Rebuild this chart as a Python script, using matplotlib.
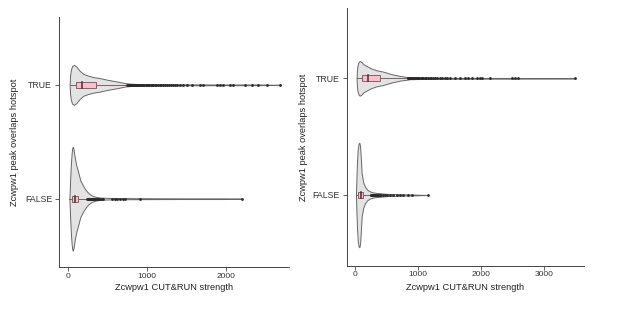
import matplotlib
matplotlib.use("Agg")
import matplotlib.pyplot as plt

plt.rcParams["font.family"] = ["Liberation Sans", "DejaVu Sans"]

W, H = 617, 309

categories = ["FALSE", "TRUE"]

# violin outlines: strength value -> half width (y units)
left_true_x = [25, 30, 40, 55, 80, 110, 150, 198, 260, 330, 409, 500, 620, 725, 800, 900, 1000, 1200, 1500, 2000, 2400, 2700]
left_true_hw = [0.0, 0.08, 0.13, 0.165, 0.175, 0.16, 0.125, 0.096, 0.08, 0.068, 0.059, 0.045, 0.03, 0.015, 0.01, 0.007, 0.006, 0.005, 0.004, 0.003, 0.003, 0.0]
left_false_x = [22, 30, 40, 50, 58, 65, 75, 92, 110, 134, 160, 198, 230, 261, 300, 350, 409, 500, 700, 1000, 1500, 2000, 2200]
left_false_hw = [0.0, 0.15, 0.3, 0.4, 0.445, 0.456, 0.43, 0.35, 0.29, 0.23, 0.16, 0.11, 0.075, 0.05, 0.03, 0.017, 0.01, 0.007, 0.005, 0.004, 0.003, 0.003, 0.0]
right_true_x = [20, 25, 32, 45, 60, 75, 95, 130, 181, 250, 330, 445, 580, 711, 870, 1000, 1500, 2000, 2500, 3000, 3500]
right_true_hw = [0.0, 0.06, 0.1, 0.13, 0.145, 0.148, 0.14, 0.12, 0.105, 0.085, 0.07, 0.057, 0.035, 0.02, 0.008, 0.006, 0.004, 0.003, 0.003, 0.002, 0.0]
right_false_x = [10, 18, 28, 40, 52, 64, 75, 86, 101, 125, 154, 190, 234, 300, 393, 500, 700, 900, 1160]
right_false_hw = [0.0, 0.15, 0.3, 0.4, 0.44, 0.448, 0.42, 0.33, 0.186, 0.11, 0.071, 0.045, 0.03, 0.02, 0.015, 0.01, 0.006, 0.004, 0.0]

# box stats: whisker low, q1, median, q3, whisker high  (FALSE, TRUE)
left_box = [[22, 58, 92, 134, 245], [30, 105, 181, 358, 740]]
right_box = [[10, 48, 86, 127, 245], [20, 101, 207, 393, 830]]

# outliers
left_true_out = [752, 760, 771, 779, 788, 797, 806, 818, 825, 836, 848, 859, 866, 880, 893, 905, 917,
                 930, 944, 958, 969, 985, 1002, 1018, 1031, 1050, 1066, 1083, 1101, 1122, 1140, 1163,
                 1181, 1204, 1229, 1252, 1280, 1306, 1334, 1361, 1380,
                 1423, 1464, 1506, 1570, 1675, 1717, 1886, 1928, 1970, 2054, 2097, 2245, 2330, 2413,
                 2519, 2687]
left_false_out = [248, 252, 257, 261, 266, 270, 276, 281, 287, 293, 300, 306, 313, 321, 330, 339, 348,
                  359, 370, 383, 397, 410, 430, 451, 557, 599, 620, 662, 704, 725, 915, 2200]
right_true_out = [832, 840, 850, 861, 872, 884, 896, 909, 921, 936, 951, 967, 982, 1000, 1018, 1037,
                  1058, 1080, 1103, 1128, 1152, 1180, 1210, 1240, 1272, 1305, 1340, 1380, 1426,
                  1453, 1505, 1585, 1664, 1744, 1797, 1850, 1929, 1982, 2009, 2141, 2486, 2539, 2592, 3500]
right_false_out = [248, 253, 259, 265, 272, 280, 288, 297, 306, 317, 329, 342, 356, 372, 390, 410, 445,
                   472, 498, 552, 604, 658, 711, 763, 842, 896, 1160]

left_xticks = [0, 1000, 2000]
right_xticks = [0, 1000, 2000, 3000]

xlabel = "Zcwpw1 CUT&RUN strength"
ylabel = "Zcwpw1 peak overlaps hotspot"


def px_axes(fig, l, t, r, b):
    return fig.add_axes([l / W, 1 - b / H, (r - l) / W, (b - t) / H])


def draw_panel(ax, violins, boxes, outs, xlim, ylim, xticks):
    for pos, (xs, hw) in enumerate(violins, start=1):
        lo = [pos - h for h in hw]
        hi = [pos + h for h in hw]
        ax.fill_between(xs, lo, hi, facecolor="#e3e3e3", edgecolor="#666666", linewidth=0.7, zorder=1)
    for pos, (wl, q1, med, q3, wh) in enumerate(boxes, start=1):
        bw = 0.025
        ax.plot([wl, q1], [pos, pos], color="#6b4a50", lw=0.6, zorder=2)
        ax.plot([q3, wh], [pos, pos], color="#6b4a50", lw=0.6, zorder=2)
        ax.add_patch(plt.Rectangle((q1, pos - bw), q3 - q1, 2 * bw, facecolor="#f7c1cb",
                                   edgecolor="#7a4a55", lw=0.6, zorder=3))
        ax.plot([med, med], [pos - bw, pos + bw], color="#4a2a30", lw=1.1, zorder=4)
    for pos, o in enumerate(outs, start=1):
        ax.plot(o, [pos] * len(o), "o", ms=2, color="#2a2a2a", mec="none", zorder=5)
    ax.set_xlim(*xlim)
    ax.set_ylim(*ylim)
    ax.set_xticks(xticks)
    ax.set_xticklabels([str(t) for t in xticks])
    ax.set_yticks([1, 2])
    ax.set_yticklabels(categories)
    for s in ["top", "right"]:
        ax.spines[s].set_visible(False)
    for s in ["left", "bottom"]:
        ax.spines[s].set_color("#444444")
        ax.spines[s].set_linewidth(0.7)
    ax.tick_params(axis="x", length=3, width=0.6, color="#444444", labelsize=6, labelcolor="#333333", pad=1)
    ax.tick_params(axis="y", length=3, width=0.6, color="#444444", labelsize=6.3, labelcolor="#333333", pad=2)


fig = plt.figure(figsize=(W / 100, H / 100), dpi=100)

ax1 = px_axes(fig, 59, 17, 289, 267)
draw_panel(ax1,
           [(left_false_x, left_false_hw), (left_true_x, left_true_hw)],
           left_box, [left_false_out, left_true_out],
           (-110, 2801), (0.4, 2.596), left_xticks)

ax2 = px_axes(fig, 346.7, 8.3, 584, 265.7)
draw_panel(ax2,
           [(right_false_x, right_false_hw), (right_true_x, right_true_hw)],
           right_box, [right_false_out, right_true_out],
           (-137, 3636), (0.394, 2.6), right_xticks)

fig.text(174 / W, 1 - 288 / H, xlabel, ha="center", va="center", fontsize=6.7, color="#222222")
fig.text(465 / W, 1 - 287 / H, xlabel, ha="center", va="center", fontsize=6.7, color="#222222")
fig.text(15 / W, 1 - 142 / H, ylabel, ha="center", va="center", rotation=90, fontsize=6.7, color="#222222")
fig.text(303 / W, 1 - 137 / H, ylabel, ha="center", va="center", rotation=90, fontsize=6.7, color="#222222")

fig.savefig("out.png", dpi=100)
